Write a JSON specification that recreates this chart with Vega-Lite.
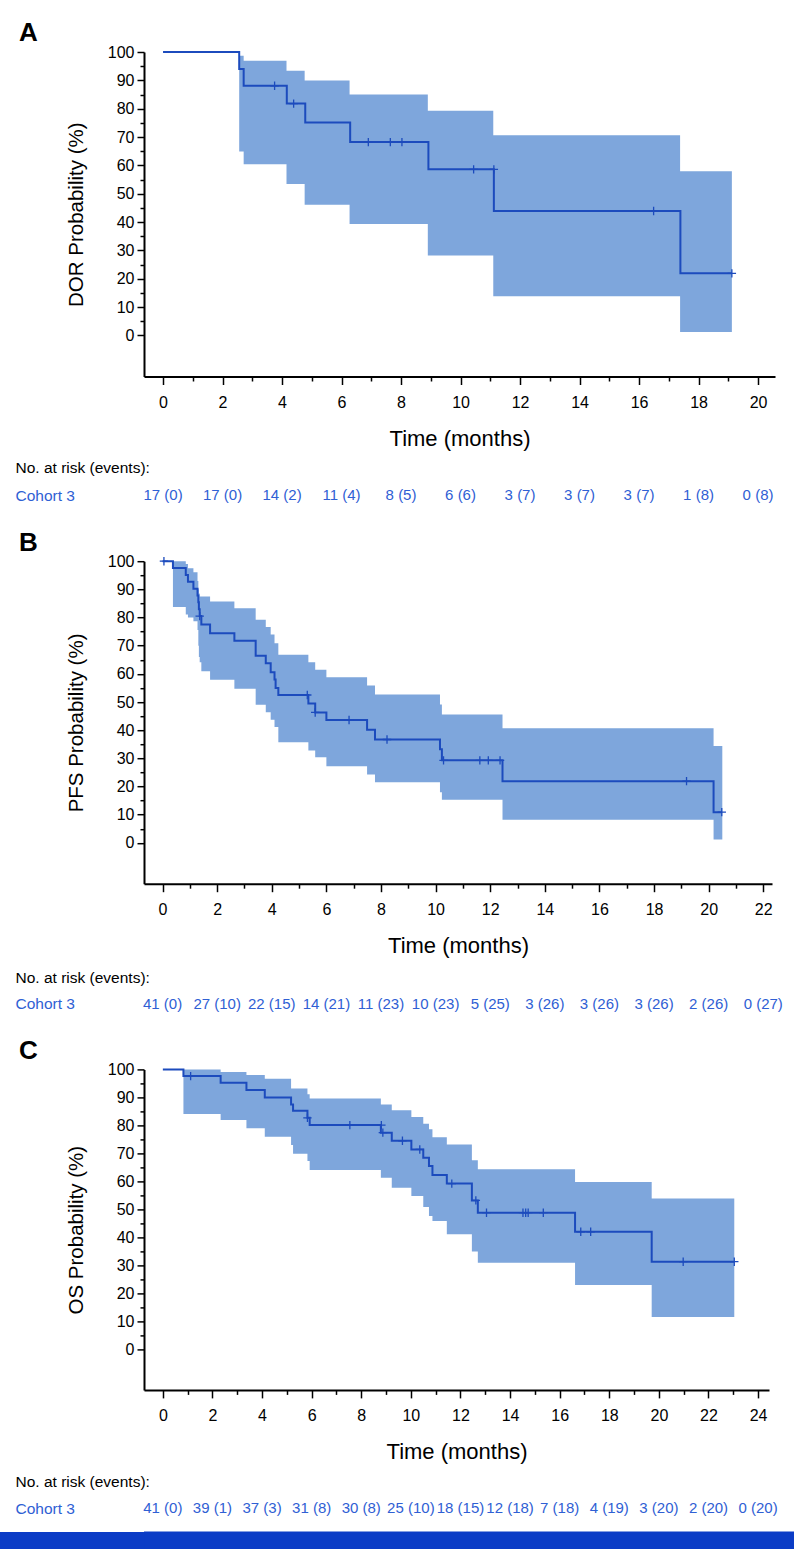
{
  "$schema": "https://vega.github.io/schema/vega-lite/v6.json",
  "background": "white",
  "padding": {"left": 15, "top": 20, "right": 0, "bottom": 0},
  "bounds": "flush",
  "spacing": 9.6,
  "config": {
    "font": "Liberation Sans",
    "view": {"stroke": null},
    "axis": {"grid": false, "domainColor": "black", "tickColor": "black", "labelColor": "black", "titleColor": "black", "labelFont": "Liberation Sans", "titleFont": "Liberation Sans", "titleFontWeight": "normal", "labelFlush": false, "labelOverlap": false},
    "axisX": {"tickWidth": 1.5, "domainWidth": 2, "labelFontSize": 16, "labelPadding": 10, "titleFontSize": 22, "titlePadding": 18},
    "axisY": {"tickWidth": 1.5, "domainWidth": 2, "labelFontSize": 16, "labelPadding": 3, "titleFontSize": 20.5, "titlePadding": 21},
    "title": {"anchor": "start", "frame": "group", "dx": -125, "offset": -2.4, "fontSize": 26, "fontWeight": "bold", "baseline": "alphabetic", "color": "black", "font": "Liberation Sans"}
  },
  "datasets": {
    "lineA": [
      {"t": 0, "s": 100}, {"t": 2.56, "s": 94.0}, {"t": 2.71, "s": 88.1}, {"t": 4.16, "s": 81.8}, {"t": 4.78, "s": 75.1},
      {"t": 6.29, "s": 68.2}, {"t": 8.92, "s": 58.6}, {"t": 11.12, "s": 43.9}, {"t": 17.39, "s": 21.9}, {"t": 19.12, "s": 21.9}
    ],
    "bandA": [
      {"t": 2.56, "lo": 64.9, "hi": 98.7}, {"t": 2.71, "lo": 60.4, "hi": 96.9}, {"t": 4.15, "lo": 53.4, "hi": 93.4},
      {"t": 4.76, "lo": 46.1, "hi": 89.9}, {"t": 6.27, "lo": 39.3, "hi": 85.0}, {"t": 8.9, "lo": 28.2, "hi": 79.3},
      {"t": 11.1, "lo": 13.8, "hi": 70.6}, {"t": 17.38, "lo": 1.2, "hi": 57.9}, {"t": 19.12, "lo": 1.2, "hi": 57.9}
    ],
    "censA": [
      {"t": 3.75, "s": 88.1}, {"t": 4.39, "s": 81.8}, {"t": 6.9, "s": 68.2}, {"t": 7.64, "s": 68.2}, {"t": 8.03, "s": 68.2},
      {"t": 10.44, "s": 58.6}, {"t": 11.12, "s": 58.6}, {"t": 16.49, "s": 43.9}, {"t": 19.12, "s": 21.9}
    ],
    "riskA": [
      {"t": 0, "row": "Cohort 3", "label": "17 (0)"}, {"t": 2, "row": "Cohort 3", "label": "17 (0)"}, {"t": 4, "row": "Cohort 3", "label": "14 (2)"},
      {"t": 6, "row": "Cohort 3", "label": "11 (4)"}, {"t": 8, "row": "Cohort 3", "label": "8 (5)"}, {"t": 10, "row": "Cohort 3", "label": "6 (6)"},
      {"t": 12, "row": "Cohort 3", "label": "3 (7)"}, {"t": 14, "row": "Cohort 3", "label": "3 (7)"}, {"t": 16, "row": "Cohort 3", "label": "3 (7)"},
      {"t": 18, "row": "Cohort 3", "label": "1 (8)"}, {"t": 20, "row": "Cohort 3", "label": "0 (8)"}
    ],
    "lineB": [
      {"t": 0, "s": 100}, {"t": 0.38, "s": 97.6}, {"t": 0.85, "s": 95.1}, {"t": 0.93, "s": 92.7}, {"t": 1.13, "s": 90.2},
      {"t": 1.28, "s": 87.8}, {"t": 1.31, "s": 85.4}, {"t": 1.33, "s": 82.9}, {"t": 1.36, "s": 80.5}, {"t": 1.42, "s": 77.5},
      {"t": 1.74, "s": 74.4}, {"t": 2.63, "s": 71.8}, {"t": 3.41, "s": 66.4}, {"t": 3.78, "s": 63.8}, {"t": 3.96, "s": 60.6},
      {"t": 4.1, "s": 58.0}, {"t": 4.14, "s": 55.0}, {"t": 4.24, "s": 52.5}, {"t": 5.34, "s": 49.5}, {"t": 5.59, "s": 46.3},
      {"t": 6.0, "s": 43.6}, {"t": 7.49, "s": 40.2}, {"t": 7.78, "s": 36.7}, {"t": 10.16, "s": 33.2}, {"t": 10.23, "s": 29.3},
      {"t": 12.45, "s": 21.9}, {"t": 20.18, "s": 10.9}, {"t": 20.48, "s": 10.9}
    ],
    "bandB": [
      {"t": 0.38, "lo": 83.7, "hi": 100}, {"t": 0.85, "lo": 81.1, "hi": 99.0}, {"t": 0.93, "lo": 80.0, "hi": 97.5},
      {"t": 1.13, "lo": 78.7, "hi": 96.1}, {"t": 1.28, "lo": 75.6, "hi": 93.0}, {"t": 1.31, "lo": 70.0, "hi": 90.0},
      {"t": 1.33, "lo": 66.0, "hi": 88.5}, {"t": 1.36, "lo": 64.1, "hi": 87.5}, {"t": 1.42, "lo": 60.9, "hi": 87.5},
      {"t": 1.74, "lo": 57.9, "hi": 85.7}, {"t": 2.63, "lo": 54.7, "hi": 83.3}, {"t": 3.41, "lo": 49.0, "hi": 79.2},
      {"t": 3.78, "lo": 46.4, "hi": 76.6}, {"t": 3.96, "lo": 43.7, "hi": 74.0}, {"t": 4.1, "lo": 41.1, "hi": 70.9},
      {"t": 4.24, "lo": 35.7, "hi": 66.8}, {"t": 5.34, "lo": 32.8, "hi": 64.1}, {"t": 5.59, "lo": 30.4, "hi": 61.5},
      {"t": 6.0, "lo": 27.2, "hi": 58.8}, {"t": 7.49, "lo": 24.3, "hi": 55.9}, {"t": 7.78, "lo": 21.5, "hi": 52.7},
      {"t": 10.16, "lo": 18.0, "hi": 49.1}, {"t": 10.23, "lo": 15.3, "hi": 45.6}, {"t": 12.45, "lo": 8.2, "hi": 40.7},
      {"t": 20.18, "lo": 1.2, "hi": 34.4}, {"t": 20.5, "lo": 1.2, "hi": 34.4}
    ],
    "censB": [
      {"t": 0.05, "s": 100}, {"t": 1.36, "s": 80.5}, {"t": 5.3, "s": 52.5}, {"t": 5.59, "s": 46.3}, {"t": 6.83, "s": 43.6},
      {"t": 8.22, "s": 36.7}, {"t": 10.29, "s": 29.3}, {"t": 11.62, "s": 29.3}, {"t": 11.93, "s": 29.3}, {"t": 12.36, "s": 29.3},
      {"t": 19.19, "s": 21.9}, {"t": 20.48, "s": 10.9}
    ],
    "riskB": [
      {"t": 0, "row": "Cohort 3", "label": "41 (0)"}, {"t": 2, "row": "Cohort 3", "label": "27 (10)"}, {"t": 4, "row": "Cohort 3", "label": "22 (15)"},
      {"t": 6, "row": "Cohort 3", "label": "14 (21)"}, {"t": 8, "row": "Cohort 3", "label": "11 (23)"}, {"t": 10, "row": "Cohort 3", "label": "10 (23)"},
      {"t": 12, "row": "Cohort 3", "label": "5 (25)"}, {"t": 14, "row": "Cohort 3", "label": "3 (26)"}, {"t": 16, "row": "Cohort 3", "label": "3 (26)"},
      {"t": 18, "row": "Cohort 3", "label": "3 (26)"}, {"t": 20, "row": "Cohort 3", "label": "2 (26)"}, {"t": 22, "row": "Cohort 3", "label": "0 (27)"}
    ],
    "lineC": [
      {"t": 0, "s": 100}, {"t": 0.83, "s": 97.6}, {"t": 2.33, "s": 95.2}, {"t": 3.37, "s": 92.6}, {"t": 4.11, "s": 90.0},
      {"t": 5.17, "s": 87.5}, {"t": 5.25, "s": 85.2}, {"t": 5.83, "s": 82.7}, {"t": 5.92, "s": 80.1}, {"t": 8.79, "s": 77.4},
      {"t": 9.23, "s": 74.5}, {"t": 10.02, "s": 71.4}, {"t": 10.5, "s": 68.4}, {"t": 10.73, "s": 65.5}, {"t": 10.87, "s": 62.3},
      {"t": 11.45, "s": 59.2}, {"t": 12.46, "s": 53.2}, {"t": 12.7, "s": 48.8}, {"t": 16.62, "s": 42.0}, {"t": 19.71, "s": 31.3},
      {"t": 23.04, "s": 31.3}
    ],
    "bandC": [
      {"t": 0.83, "lo": 84.1, "hi": 100}, {"t": 2.33, "lo": 81.9, "hi": 99.1}, {"t": 3.37, "lo": 79.0, "hi": 98.0},
      {"t": 4.11, "lo": 75.9, "hi": 96.7}, {"t": 5.17, "lo": 73.0, "hi": 93.2}, {"t": 5.25, "lo": 69.9, "hi": 93.2},
      {"t": 5.83, "lo": 67.3, "hi": 91.1}, {"t": 5.92, "lo": 64.1, "hi": 89.6}, {"t": 8.79, "lo": 61.3, "hi": 87.5},
      {"t": 9.23, "lo": 57.7, "hi": 85.4}, {"t": 10.02, "lo": 54.8, "hi": 83.0}, {"t": 10.5, "lo": 50.8, "hi": 80.6},
      {"t": 10.73, "lo": 47.6, "hi": 78.6}, {"t": 10.87, "lo": 45.8, "hi": 75.8}, {"t": 11.45, "lo": 41.1, "hi": 73.2},
      {"t": 12.46, "lo": 34.9, "hi": 67.5}, {"t": 12.7, "lo": 30.9, "hi": 64.3}, {"t": 16.62, "lo": 23.0, "hi": 59.8},
      {"t": 19.71, "lo": 11.5, "hi": 53.9}, {"t": 23.04, "lo": 11.5, "hi": 53.9}
    ],
    "censC": [
      {"t": 1.12, "s": 97.6}, {"t": 5.83, "s": 82.7}, {"t": 7.54, "s": 80.1}, {"t": 8.81, "s": 80.1}, {"t": 8.87, "s": 77.4},
      {"t": 9.66, "s": 74.5}, {"t": 10.36, "s": 71.4}, {"t": 11.65, "s": 59.2}, {"t": 12.62, "s": 53.2}, {"t": 13.05, "s": 48.8},
      {"t": 14.52, "s": 48.8}, {"t": 14.63, "s": 48.8}, {"t": 14.73, "s": 48.8}, {"t": 15.34, "s": 48.8}, {"t": 16.85, "s": 42.0},
      {"t": 17.25, "s": 42.0}, {"t": 20.98, "s": 31.3}, {"t": 23.04, "s": 31.3}
    ],
    "riskC": [
      {"t": 0, "row": "Cohort 3", "label": "41 (0)"}, {"t": 2, "row": "Cohort 3", "label": "39 (1)"}, {"t": 4, "row": "Cohort 3", "label": "37 (3)"},
      {"t": 6, "row": "Cohort 3", "label": "31 (8)"}, {"t": 8, "row": "Cohort 3", "label": "30 (8)"}, {"t": 10, "row": "Cohort 3", "label": "25 (10)"},
      {"t": 12, "row": "Cohort 3", "label": "18 (15)"}, {"t": 14, "row": "Cohort 3", "label": "12 (18)"}, {"t": 16, "row": "Cohort 3", "label": "7 (18)"},
      {"t": 18, "row": "Cohort 3", "label": "4 (19)"}, {"t": 20, "row": "Cohort 3", "label": "3 (20)"}, {"t": 22, "row": "Cohort 3", "label": "2 (20)"},
      {"t": 24, "row": "Cohort 3", "label": "0 (20)"}
    ]
  },
  "vconcat": [
    {
      "width": 631, "height": 324.5,
      "title": {"text": "A"},
      "encoding": {
        "x": {"field": "t", "type": "quantitative", "scale": {"domain": [-0.64, 20.57], "nice": false, "zero": false},
          "axis": {"title": "Time (months)", "values": [0,1,2,3,4,5,6,7,8,9,10,11,12,13,14,15,16,17,18,19,20], "labelExpr": "datum.value % 2 == 0 ? datum.label : ''", "tickSize": {"condition": {"test": "datum.value % 2 != 0", "value": 4.5}, "value": 8}}},
        "y": {"field": "s", "type": "quantitative", "scale": {"domain": [-14.5, 100], "nice": false, "zero": false},
          "axis": {"title": "DOR Probability (%)", "values": [0,5,10,15,20,25,30,35,40,45,50,55,60,65,70,75,80,85,90,95,100], "labelExpr": "datum.value % 10 == 0 ? datum.label : ''", "tickSize": {"condition": {"test": "datum.value % 10 != 0", "value": 4}, "value": 7}}}
      },
      "layer": [
        {
          "data": {"name": "bandA"},
          "mark": {"type": "area", "interpolate": "step-after", "color": "#7ea6dc", "opacity": 1},
          "encoding": {
            "y": {"field": "hi", "type": "quantitative", "scale": {"domain": [-14.5, 100], "nice": false, "zero": false},
              "axis": {"title": "DOR Probability (%)", "values": [0,5,10,15,20,25,30,35,40,45,50,55,60,65,70,75,80,85,90,95,100], "labelExpr": "datum.value % 10 == 0 ? datum.label : ''", "tickSize": {"condition": {"test": "datum.value % 10 != 0", "value": 4}, "value": 7}}},
            "y2": {"field": "lo"}
          }
        },
        {
          "data": {"name": "lineA"},
          "mark": {"type": "line", "interpolate": "step-after", "color": "#1c4bbd", "strokeWidth": 2}
        },
        {
          "data": {"name": "censA"},
          "mark": {"type": "point", "shape": "M-1,0H1M0,-1V1", "filled": false, "color": "#1c4bbd", "strokeWidth": 1.3, "size": 70, "opacity": 1}
        },
        {
          "data": {"values": [{"label": "Median (95% CI): 11.1 (4.8-NE) months"}]},
          "mark": {"type": "text", "align": "right", "baseline": "middle", "fontSize": 15.5, "color": "black"},
          "encoding": {
            "x": {"datum": 20.31, "type": "quantitative", "scale": {"domain": [-0.64, 20.57], "nice": false, "zero": false},
              "axis": {"title": "Time (months)", "values": [0,1,2,3,4,5,6,7,8,9,10,11,12,13,14,15,16,17,18,19,20], "labelExpr": "datum.value % 2 == 0 ? datum.label : ''", "tickSize": {"condition": {"test": "datum.value % 2 != 0", "value": 4.5}, "value": 8}}},
            "y": {"datum": 95, "type": "quantitative", "scale": {"domain": [-14.5, 100], "nice": false, "zero": false},
              "axis": {"title": "DOR Probability (%)", "values": [0,5,10,15,20,25,30,35,40,45,50,55,60,65,70,75,80,85,90,95,100], "labelExpr": "datum.value % 10 == 0 ? datum.label : ''", "tickSize": {"condition": {"test": "datum.value % 10 != 0", "value": 4}, "value": 7}}},
            "text": {"field": "label"}
          }
        }
      ]
    },
    {
      "width": 631, "height": 164.7,
      "data": {"name": "riskA"},
      "mark": {"type": "text", "fontSize": 15, "color": "#2f60d4", "baseline": "middle"},
      "encoding": {
        "x": {"field": "t", "type": "quantitative", "scale": {"domain": [-0.64, 20.57], "nice": false, "zero": false}, "axis": null},
        "y": {"field": "row", "type": "nominal", "scale": {"type": "point", "domain": ["sp1", "sp2", "No. at risk (events):", "Cohort 3", "sp3", "sp4"], "padding": 0.473, "align": 0.973},
          "axis": {"title": null, "domain": false, "ticks": false, "tickSize": 0, "labelAlign": "left", "labelPadding": 129, "labelFontSize": 15.5, "labelBaseline": "middle", "labelLimit": 300, "labelExpr": "indexof(datum.value, 'sp') == 0 ? '' : datum.label", "labelColor": {"condition": {"test": "datum.value == 'Cohort 3'", "value": "#2f60d4"}, "value": "black"}}},
        "text": {"field": "label"}
      }
    },
    {
      "width": 628, "height": 322.5,
      "title": {"text": "B"},
      "encoding": {
        "x": {"field": "t", "type": "quantitative", "scale": {"domain": [-0.68, 22.32], "nice": false, "zero": false},
          "axis": {"title": "Time (months)", "values": [0,1,2,3,4,5,6,7,8,9,10,11,12,13,14,15,16,17,18,19,20,21,22], "labelExpr": "datum.value % 2 == 0 ? datum.label : ''", "tickSize": {"condition": {"test": "datum.value % 2 != 0", "value": 4.5}, "value": 8}}},
        "y": {"field": "s", "type": "quantitative", "scale": {"domain": [-14.5, 100], "nice": false, "zero": false},
          "axis": {"title": "PFS Probability (%)", "values": [0,5,10,15,20,25,30,35,40,45,50,55,60,65,70,75,80,85,90,95,100], "labelExpr": "datum.value % 10 == 0 ? datum.label : ''", "tickSize": {"condition": {"test": "datum.value % 10 != 0", "value": 4}, "value": 7}}}
      },
      "layer": [
        {
          "data": {"name": "bandB"},
          "mark": {"type": "area", "interpolate": "step-after", "color": "#7ea6dc", "opacity": 1},
          "encoding": {
            "y": {"field": "hi", "type": "quantitative", "scale": {"domain": [-14.5, 100], "nice": false, "zero": false},
              "axis": {"title": "PFS Probability (%)", "values": [0,5,10,15,20,25,30,35,40,45,50,55,60,65,70,75,80,85,90,95,100], "labelExpr": "datum.value % 10 == 0 ? datum.label : ''", "tickSize": {"condition": {"test": "datum.value % 10 != 0", "value": 4}, "value": 7}}},
            "y2": {"field": "lo"}
          }
        },
        {
          "data": {"name": "lineB"},
          "mark": {"type": "line", "interpolate": "step-after", "color": "#1c4bbd", "strokeWidth": 2}
        },
        {
          "data": {"name": "censB"},
          "mark": {"type": "point", "shape": "M-1,0H1M0,-1V1", "filled": false, "color": "#1c4bbd", "strokeWidth": 1.3, "size": 70, "opacity": 1}
        },
        {
          "data": {"values": [{"label": "Median (95% CI): 5.3 (3.4-10.2) months"}]},
          "mark": {"type": "text", "align": "right", "baseline": "middle", "fontSize": 15.5, "color": "black"},
          "encoding": {
            "x": {"datum": 22.1, "type": "quantitative", "scale": {"domain": [-0.68, 22.32], "nice": false, "zero": false},
              "axis": {"title": "Time (months)", "values": [0,1,2,3,4,5,6,7,8,9,10,11,12,13,14,15,16,17,18,19,20,21,22], "labelExpr": "datum.value % 2 == 0 ? datum.label : ''", "tickSize": {"condition": {"test": "datum.value % 2 != 0", "value": 4.5}, "value": 8}}},
            "y": {"datum": 95, "type": "quantitative", "scale": {"domain": [-14.5, 100], "nice": false, "zero": false},
              "axis": {"title": "PFS Probability (%)", "values": [0,5,10,15,20,25,30,35,40,45,50,55,60,65,70,75,80,85,90,95,100], "labelExpr": "datum.value % 10 == 0 ? datum.label : ''", "tickSize": {"condition": {"test": "datum.value % 10 != 0", "value": 4}, "value": 7}}},
            "text": {"field": "label"}
          }
        }
      ]
    },
    {
      "width": 628, "height": 165.9,
      "data": {"name": "riskB"},
      "mark": {"type": "text", "fontSize": 15, "color": "#2f60d4", "baseline": "middle"},
      "encoding": {
        "x": {"field": "t", "type": "quantitative", "scale": {"domain": [-0.68, 22.32], "nice": false, "zero": false}, "axis": null},
        "y": {"field": "row", "type": "nominal", "scale": {"type": "point", "domain": ["sp1", "sp2", "No. at risk (events):", "Cohort 3", "sp3", "sp4"], "padding": 0.63, "align": 0.919},
          "axis": {"title": null, "domain": false, "ticks": false, "tickSize": 0, "labelAlign": "left", "labelPadding": 129, "labelFontSize": 15.5, "labelBaseline": "middle", "labelLimit": 300, "labelExpr": "indexof(datum.value, 'sp') == 0 ? '' : datum.label", "labelColor": {"condition": {"test": "datum.value == 'Cohort 3'", "value": "#2f60d4"}, "value": "black"}}},
        "text": {"field": "label"}
      }
    },
    {
      "width": 625, "height": 320.5,
      "title": {"text": "C"},
      "encoding": {
        "x": {"field": "t", "type": "quantitative", "scale": {"domain": [-0.76, 24.44], "nice": false, "zero": false},
          "axis": {"title": "Time (months)", "values": [0,1,2,3,4,5,6,7,8,9,10,11,12,13,14,15,16,17,18,19,20,21,22,23,24], "labelExpr": "datum.value % 2 == 0 ? datum.label : ''", "tickSize": {"condition": {"test": "datum.value % 2 != 0", "value": 4.5}, "value": 8}}},
        "y": {"field": "s", "type": "quantitative", "scale": {"domain": [-14.5, 100], "nice": false, "zero": false},
          "axis": {"title": "OS Probability (%)", "values": [0,5,10,15,20,25,30,35,40,45,50,55,60,65,70,75,80,85,90,95,100], "labelExpr": "datum.value % 10 == 0 ? datum.label : ''", "tickSize": {"condition": {"test": "datum.value % 10 != 0", "value": 4}, "value": 7}}}
      },
      "layer": [
        {
          "data": {"name": "bandC"},
          "mark": {"type": "area", "interpolate": "step-after", "color": "#7ea6dc", "opacity": 1},
          "encoding": {
            "y": {"field": "hi", "type": "quantitative", "scale": {"domain": [-14.5, 100], "nice": false, "zero": false},
              "axis": {"title": "OS Probability (%)", "values": [0,5,10,15,20,25,30,35,40,45,50,55,60,65,70,75,80,85,90,95,100], "labelExpr": "datum.value % 10 == 0 ? datum.label : ''", "tickSize": {"condition": {"test": "datum.value % 10 != 0", "value": 4}, "value": 7}}},
            "y2": {"field": "lo"}
          }
        },
        {
          "data": {"name": "lineC"},
          "mark": {"type": "line", "interpolate": "step-after", "color": "#1c4bbd", "strokeWidth": 2}
        },
        {
          "data": {"name": "censC"},
          "mark": {"type": "point", "shape": "M-1,0H1M0,-1V1", "filled": false, "color": "#1c4bbd", "strokeWidth": 1.3, "size": 70, "opacity": 1}
        },
        {
          "data": {"values": [{"label": "Median (95% CI): 12.7 (10.7-NE) months"}]},
          "mark": {"type": "text", "align": "right", "baseline": "middle", "fontSize": 15.5, "color": "black"},
          "encoding": {
            "x": {"datum": 24.15, "type": "quantitative", "scale": {"domain": [-0.76, 24.44], "nice": false, "zero": false},
              "axis": {"title": "Time (months)", "values": [0,1,2,3,4,5,6,7,8,9,10,11,12,13,14,15,16,17,18,19,20,21,22,23,24], "labelExpr": "datum.value % 2 == 0 ? datum.label : ''", "tickSize": {"condition": {"test": "datum.value % 2 != 0", "value": 4.5}, "value": 8}}},
            "y": {"datum": 95.2, "type": "quantitative", "scale": {"domain": [-14.5, 100], "nice": false, "zero": false},
              "axis": {"title": "OS Probability (%)", "values": [0,5,10,15,20,25,30,35,40,45,50,55,60,65,70,75,80,85,90,95,100], "labelExpr": "datum.value % 10 == 0 ? datum.label : ''", "tickSize": {"condition": {"test": "datum.value % 10 != 0", "value": 4}, "value": 7}}},
            "text": {"field": "label"}
          }
        }
      ]
    },
    {
      "width": 625, "height": 122,
      "data": {"name": "riskC"},
      "mark": {"type": "text", "fontSize": 15, "color": "#2f60d4", "baseline": "middle"},
      "encoding": {
        "x": {"field": "t", "type": "quantitative", "scale": {"domain": [-0.76, 24.44], "nice": false, "zero": false}, "axis": null},
        "y": {"field": "row", "type": "nominal", "scale": {"type": "point", "domain": ["sp1", "sp2", "sp3", "No. at risk (events):", "Cohort 3"], "padding": 0.2845, "align": 0.1},
          "axis": {"title": null, "domain": false, "ticks": false, "tickSize": 0, "labelAlign": "left", "labelPadding": 129, "labelFontSize": 15.5, "labelBaseline": "middle", "labelLimit": 300, "labelExpr": "indexof(datum.value, 'sp') == 0 ? '' : datum.label", "labelColor": {"condition": {"test": "datum.value == 'Cohort 3'", "value": "#2f60d4"}, "value": "black"}}},
        "text": {"field": "label"}
      }
    },
    {
      "width": 650, "height": 19,
      "view": {"fill": "#0b3cc6", "stroke": null},
      "data": {"values": []},
      "mark": {"type": "point"},
      "encoding": {
        "y": {"field": "v", "type": "quantitative", "scale": {"domain": [0, 1]},
          "axis": {"title": null, "labels": false, "ticks": false, "grid": false, "domain": true, "domainColor": "#0b3cc6", "domainWidth": 145, "offset": 72.5}}
      }
    }
  ]
}
